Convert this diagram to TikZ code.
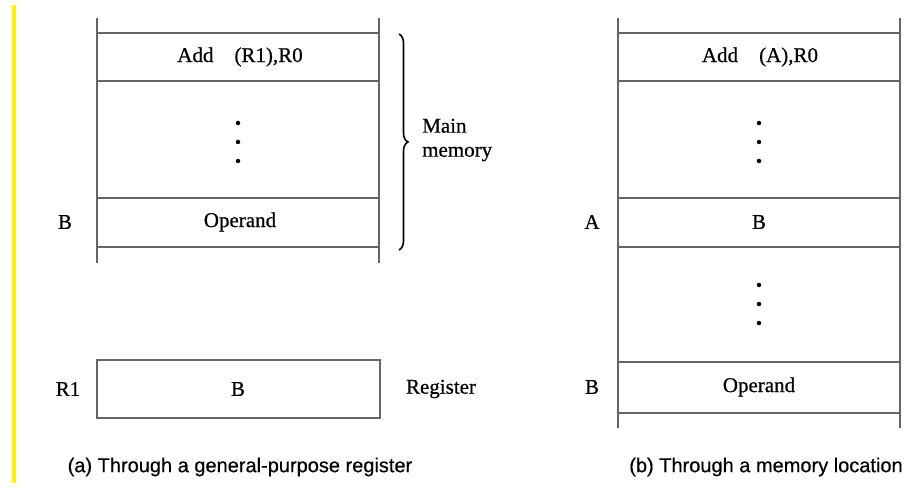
\documentclass[tikz,border=0pt]{standalone}
\usepackage{fontspec}
\setmainfont{Liberation Serif}
\newfontfamily\cellfont[FakeBold=0.6]{Liberation Serif}
\newfontfamily\capfont[FakeBold=0.4]{Liberation Sans}
\usetikzlibrary{decorations.pathreplacing}
\begin{document}
\begin{tikzpicture}[x=1pt,y=-1pt,
  wall/.style={draw=black!60, line width=2.2pt},
  cell/.style={inner sep=0pt, font=\cellfont\fontsize{21}{24}\selectfont},
  lab/.style={inner sep=0pt, font=\cellfont\fontsize{21}{24}\selectfont},
  capt/.style={inner sep=0pt, font=\capfont\fontsize{20}{24}\selectfont},
  vdot/.style={circle, fill=black, inner sep=0pt, minimum size=4.5pt}]
\useasboundingbox (0,0) rectangle (912,494);
\fill[yellow] (12,5) rectangle (16,483);

% (a) main memory column
\draw[wall] (97,18) -- (97,263);
\draw[wall] (379,18) -- (379,263);
\foreach \y in {33,81,198,247} \draw[wall] (97,\y) -- (379,\y);
\node[cell] (insA) at (240,57) {Add\hspace{1em}(R1),R0};
\node[vdot] (a1) at (238,123) {};
\node[vdot] (a2) at (238,142) {};
\node[vdot] (a3) at (238,161) {};
\node[cell] (opA) at (240,222) {Operand};
\node[lab] (labB) at (65,222) {B};

% brace and its label
\coordinate (brTop) at (399,34);
\coordinate (brBot) at (399,250);
\draw[decorate, decoration={brace, amplitude=9pt}, line width=1.6pt] (brTop) -- (brBot);
\node[lab, align=left, anchor=west] (mem) at (422,140) {Main\\memory};

% (a) register
\draw[wall] (97,360) rectangle (380,418);
\node[cell] (regB) at (238,389) {B};
\node[lab] (labR1) at (68,389) {R1};
\node[lab] (regLab) at (441,389) {Register};

% (b) memory column
\draw[wall] (618,18) -- (618,428);
\draw[wall] (900,18) -- (900,428);
\foreach \y in {33,81,198,247,362,413} \draw[wall] (618,\y) -- (900,\y);
\node[cell] (insB) at (760,57) {Add\hspace{1em}(A),R0};
\node[vdot] (b1) at (759,123) {};
\node[vdot] (b2) at (759,142) {};
\node[vdot] (b3) at (759,161) {};
\node[cell] (locA) at (759,222) {B};
\node[lab] (labA) at (592,222) {A};
\node[vdot] (c1) at (759,285) {};
\node[vdot] (c2) at (759,304) {};
\node[vdot] (c3) at (759,323) {};
\node[cell] (opB) at (759,387) {Operand};
\node[lab] (labB2) at (592,387) {B};

% captions
\node[capt] (capA) at (240,467) {(a) Through a general-purpose register};
\node[capt] (capB) at (766,467) {(b) Through a memory location};
\end{tikzpicture}
\end{document}
